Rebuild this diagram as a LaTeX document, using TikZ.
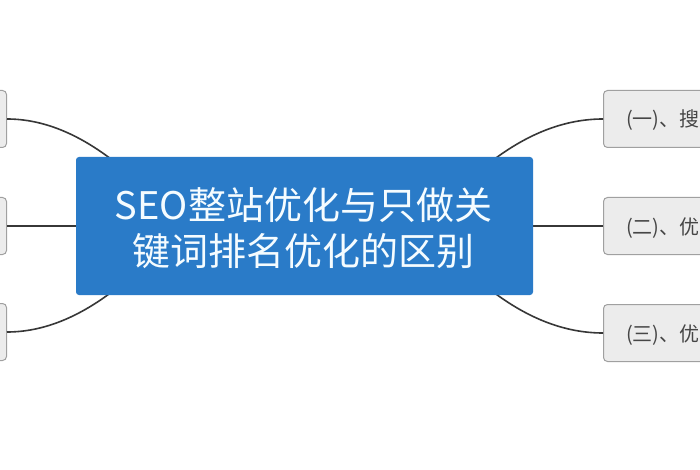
\documentclass[tikz,border=0pt]{standalone}
\usepackage{fontspec}
\newfontfamily\cjk{Noto Sans CJK SC}
\definecolor{mainblue}{RGB}{42,123,200}
\definecolor{subfill}{RGB}{236,236,236}
\definecolor{subdraw}{RGB}{160,160,160}
\definecolor{linegray}{RGB}{55,55,55}
\definecolor{subtext}{RGB}{70,70,70}
\definecolor{maintext}{RGB}{245,252,255}
\tikzset{
  mainbox/.style={fill=mainblue, rounded corners=3pt, minimum width=457pt, minimum height=138pt, inner sep=0pt},
  subbox/.style={fill=subfill, draw=subdraw, line width=1pt, rounded corners=4pt, minimum width=150pt, minimum height=57pt, inner sep=0pt, anchor=west},
  subtextstyle/.style={font=\cjk\fontsize{20}{24}\selectfont, text=subtext, anchor=base west, inner sep=0pt},
  maintextstyle/.style={font=\cjk\fontsize{38}{46}\selectfont, text=maintext, anchor=base, inner sep=0pt},
  conn/.style={draw=linegray, line width=1.6pt}
}
\begin{document}
\begin{tikzpicture}[x=1pt,y=-1pt]
\useasboundingbox (0,0) rectangle (700,470);
\clip (0,0) rectangle (700,470);
\fill[white] (0,0) rectangle (700,470);
% sub boxes
\node[subbox] (l1) at (-144,119) {};
\node[subbox] (l2) at (-144,226) {};
\node[subbox] (l3) at (-144,332) {};
\node[subbox] (r1) at (603,119) {};
\node[subbox] (r2) at (603,226) {};
\node[subbox] (r3) at (603,333) {};
% hidden anchor points under the main box
\coordinate (cl) at (180,226);
\coordinate (cr) at (425,226);
% connectors
\draw[conn] (l1.east) .. controls (80,119) and (140,180) .. (cl);
\draw[conn] (l3.east) .. controls (80,332) and (140,272) .. (cl);
\draw[conn] (l2.east) -- (cl);
\draw[conn] (r1.west) .. controls (525,119) and (465,180) .. (cr);
\draw[conn] (r3.west) .. controls (525,333) and (465,272) .. (cr);
\draw[conn] (r2.west) -- (cr);
% main box
\node[mainbox] (main) at (304.5,226) {};
\node[maintextstyle] (t1) at (303.5,219) {SEO整站优化与只做关};
\node[maintextstyle] (t2) at (303.5,265) {键词排名优化的区别};
% sub texts
\node[subtextstyle] (s1) at (626,127) {(一)、搜};
\node[subtextstyle] (s2) at (626,234) {(二)、优};
\node[subtextstyle] (s3) at (626,341) {(三)、优};
\end{tikzpicture}
\end{document}
